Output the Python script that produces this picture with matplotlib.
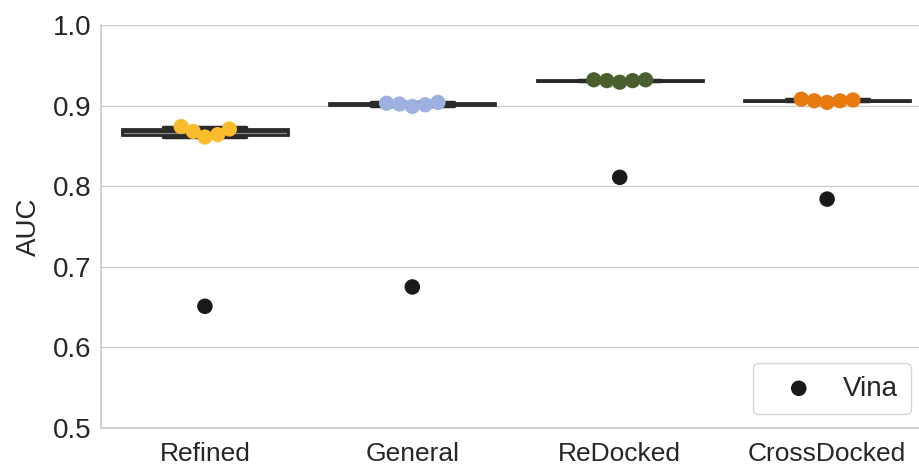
import matplotlib
matplotlib.use("Agg")
import matplotlib.pyplot as plt
import seaborn as sns
import numpy as np

categories = ["Refined", "General", "ReDocked", "CrossDocked"]
refined = [0.874, 0.871, 0.868, 0.864, 0.861]
general = [0.904, 0.903, 0.902, 0.901, 0.899]
redocked = [0.932, 0.932, 0.931, 0.931, 0.929]
crossdocked = [0.908, 0.907, 0.906, 0.906, 0.904]
vina = [0.651, 0.675, 0.811, 0.784]
colors = ["#F8BC2C", "#9DB0E0", "#4A5E2E", "#E8790F"]
yticks = [0.5, 0.6, 0.7, 0.8, 0.9, 1.0]

sns.set_theme(style="whitegrid")
plt.rcParams['font.family'] = ['Liberation Sans', 'DejaVu Sans']

series = [refined, general, redocked, crossdocked]

W, H, DPI = 9.2, 4.65, 100
fig = plt.figure(figsize=(W, H), dpi=DPI)
rect = [0.11, 0.0796, 0.895, 0.8666]
ax = fig.add_axes(rect)
xlim = (-0.5, 3.47)
ylim = (0.5, 1.0)

# pixel scales for a simple beeswarm layout
px_per_x = rect[2] * W * DPI / (xlim[1] - xlim[0])
px_per_y = rect[3] * H * DPI / (ylim[1] - ylim[0])
gap_px = 13.0


def swarm_offsets(vals):
    vals = np.asarray(vals, dtype=float)
    order = np.argsort(vals)
    placed = []
    offs = np.zeros(len(vals))
    for i in order:
        ypx = vals[i] * px_per_y
        cands = [0.0]
        for (px, py) in placed:
            dy = ypx - py
            if abs(dy) < gap_px:
                dx = np.sqrt(gap_px ** 2 - dy ** 2)
                cands += [px + dx, px - dx]
        cands = sorted(set(cands), key=lambda c: (abs(c), -c))
        for c in cands:
            ok = all((c - px) ** 2 + (ypx - py) ** 2 >= gap_px ** 2 - 1e-6
                     for (px, py) in placed)
            if ok:
                offs[i] = c
                placed.append((c, ypx))
                break
    return offs / px_per_x


ax.boxplot(series, positions=range(len(categories)), widths=0.8,
           patch_artist=True, showfliers=False,
           boxprops=dict(facecolor="#8a8a8a", edgecolor="#2a2a2a", linewidth=2),
           medianprops=dict(color="#2a2a2a", linewidth=2),
           whiskerprops=dict(color="#2a2a2a", linewidth=2),
           capprops=dict(color="#2a2a2a", linewidth=2.5),
           zorder=2)

for i, (vals, col) in enumerate(zip(series, colors)):
    offs = swarm_offsets(vals)
    ax.scatter(i + offs, vals, s=120, color=col, edgecolors="none", zorder=3)

ax.scatter(range(len(categories)), vina, s=125, color="#1a1a1a", zorder=4,
           label="Vina", edgecolors="none")

ax.set_xlim(*xlim)
ax.set_ylim(*ylim)
ax.set_yticks(yticks)
ax.set_xticks(range(len(categories)))
ax.set_xticklabels(categories, fontsize=19)
ax.tick_params(axis='both', length=0)
ax.tick_params(axis='x', pad=10)
ax.tick_params(axis='y', labelsize=20, pad=7)
ax.set_xlabel("")
ax.set_ylabel("AUC", fontsize=20, labelpad=8)
ax.grid(axis='x', visible=False)
for s in ["top", "right"]:
    ax.spines[s].set_visible(False)

leg = ax.legend(loc="lower right", fontsize=20, frameon=True,
                borderpad=0.45, handlelength=2.4, handletextpad=0.4,
                bbox_to_anchor=(1.0, 0.0), bbox_transform=ax.transAxes)

fig.savefig("out.png", dpi=DPI)
